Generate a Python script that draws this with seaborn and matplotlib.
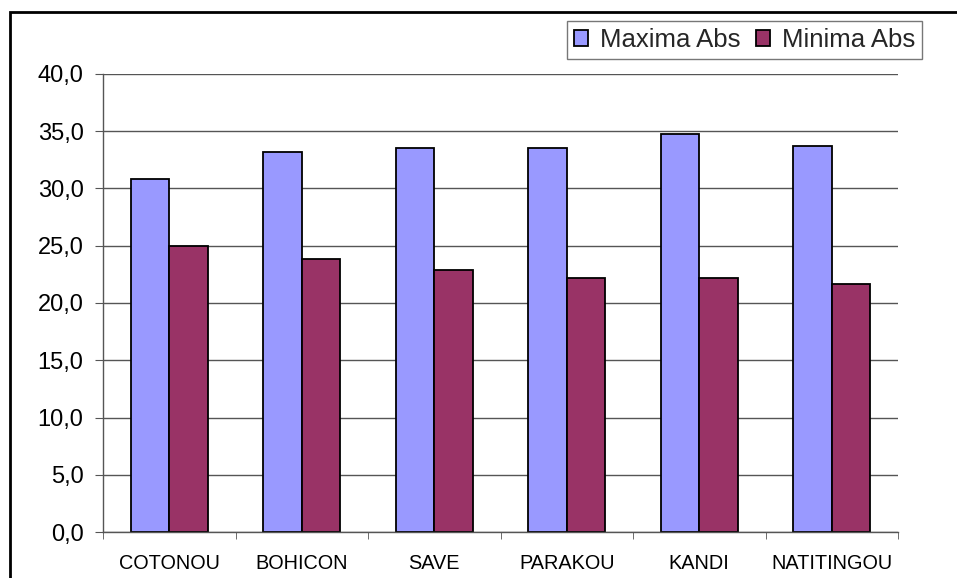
import matplotlib
matplotlib.use("Agg")
import matplotlib.pyplot as plt
import seaborn as sns
import pandas as pd
from matplotlib.patches import Rectangle
from matplotlib.ticker import FuncFormatter, FixedLocator

stations = ["COTONOU", "BOHICON", "SAVE", "PARAKOU", "KANDI", "NATITINGOU"]
maxima = [30.8, 33.2, 33.5, 33.5, 34.8, 33.7]
minima = [25.0, 23.8, 22.9, 22.2, 22.2, 21.7]
series_names = ["Maxima Abs", "Minima Abs"]

df = pd.DataFrame({
    "station": stations * 2,
    "serie": [series_names[0]] * len(stations) + [series_names[1]] * len(stations),
    "value": maxima + minima,
})

sns.set_style("white")
plt.rcParams["font.family"] = ["Liberation Sans", "DejaVu Sans"]

fig = plt.figure(figsize=(9.57, 5.78), dpi=100)
W, H = 957, 578
ax = fig.add_axes([103 / W, 1 - 532 / H, (898 - 103) / W, (532 - 74) / H])

sns.barplot(data=df, x="station", y="value", hue="serie", order=stations,
            hue_order=series_names, palette=["#9999FF", "#993366"], saturation=1,
            width=0.58, edgecolor="black", linewidth=1.3, ax=ax, legend=True)

ax.set_ylim(0, 40)
ax.set_xlim(-0.5, len(stations) - 0.5)
ax.set_yticks([0, 5, 10, 15, 20, 25, 30, 35, 40])
ax.yaxis.set_major_formatter(FuncFormatter(lambda v, p: f"{v:.1f}".replace(".", ",")))
ax.yaxis.grid(True, color="#555555", linewidth=1)
ax.set_axisbelow(True)
ax.set_xlabel("")
ax.set_ylabel("")
for s in ["top", "right"]:
    ax.spines[s].set_visible(False)
for s in ["left", "bottom"]:
    ax.spines[s].set_color("#555555")
    ax.spines[s].set_linewidth(1)
ax.tick_params(axis="y", left=True, length=6, color="#555555", labelsize=17, pad=8, labelcolor="black")
ax.tick_params(axis="x", which="major", bottom=False, length=0, labelsize=14.3, pad=16, labelcolor="black")
ax.xaxis.set_minor_locator(FixedLocator([i - 0.5 for i in range(len(stations) + 1)]))
ax.tick_params(axis="x", which="minor", bottom=True, length=5, color="#555555")

leg = ax.legend(loc="upper left", bbox_to_anchor=((567 - 103) / (898 - 103), 1 + (74 - 21) / (532 - 74)),
                ncol=2, frameon=True, fancybox=False, fontsize=18.5,
                handlelength=0.55, handleheight=0.55, handletextpad=0.45, columnspacing=0.6,
                borderpad=0.28, borderaxespad=0)
leg.get_frame().set_edgecolor("#555555")
leg.get_frame().set_linewidth(1)

fig.patches.append(Rectangle((10 / W, -0.1), 1.2, 1 - 12 / H + 0.1, transform=fig.transFigure,
                             fill=False, edgecolor="black", linewidth=2))

fig.savefig("out.png", dpi=100)
